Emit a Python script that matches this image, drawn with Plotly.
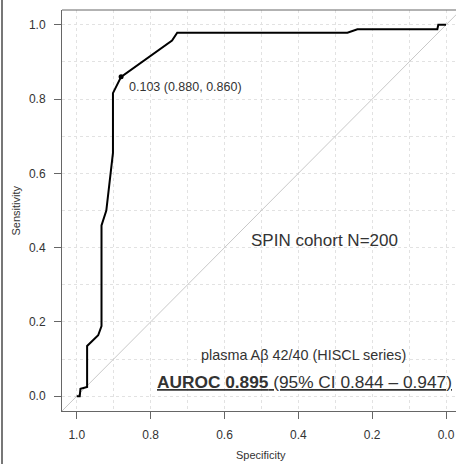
import plotly.graph_objects as go

# ROC curve (specificity, sensitivity)
specificity = [1.000, 0.992, 0.990, 0.972, 0.972, 0.942, 0.933, 0.933, 0.920,
               0.902, 0.902, 0.880, 0.742, 0.728, 0.267, 0.240, 0.0235, 0.021,
               0.003, 0.000]
sensitivity = [0.000, 0.000, 0.020, 0.025, 0.135, 0.164, 0.189, 0.460, 0.500,
               0.655, 0.816, 0.860, 0.958, 0.979, 0.979, 0.988, 0.988, 1.000,
               1.000, 1.000]

best_threshold = 0.103
best_spec = 0.880
best_sens = 0.860

chance_x = [1.04, -0.04]
chance_y = [-0.04, 1.04]

tick_vals = [0.0, 0.2, 0.4, 0.6, 0.8, 1.0]

cohort_label = "SPIN cohort N=200"
marker_label = "plasma Aβ 42/40 (HISCL series)"
auroc_label = "<b><u>AUROC 0.895</u></b><u> (95% CI 0.844 – 0.947)</u>"

TEXT = "#333333"
AXIS = "#666666"
GRID = "#e2e2e2"
FONT = "Liberation Sans, Arial, sans-serif"

fig = go.Figure()

# chance diagonal
fig.add_trace(go.Scatter(x=chance_x, y=chance_y, mode="lines",
                         line=dict(color="#c8c8c8", width=1),
                         hoverinfo="skip", showlegend=False))

# ROC curve
fig.add_trace(go.Scatter(x=specificity, y=sensitivity, mode="lines",
                         line=dict(color="black", width=2),
                         showlegend=False))

# best threshold point
fig.add_trace(go.Scatter(x=[best_spec], y=[best_sens], mode="markers",
                         marker=dict(color="black", size=5),
                         showlegend=False))

fig.add_annotation(x=0.865, y=0.833, xref="x", yref="y", showarrow=False,
                   xanchor="left", yanchor="middle",
                   text=f"{best_threshold:.3f} ({best_spec:.3f}, {best_sens:.3f})",
                   font=dict(size=12.5, color=TEXT, family=FONT))
fig.add_annotation(x=0.328, y=0.419, showarrow=False, text=cohort_label,
                   font=dict(size=17, color=TEXT, family=FONT))
fig.add_annotation(x=0.386, y=0.11, showarrow=False, text=marker_label,
                   font=dict(size=14.4, color=TEXT, family=FONT))
fig.add_annotation(x=0.382, y=0.0385, showarrow=False, text=auroc_label,
                   font=dict(size=17.3, color=TEXT, family=FONT))

# axis titles
fig.add_annotation(x=0.5, xref="x", y=0, yref="paper", yanchor="middle",
                   yshift=-44, showarrow=False, text="Specificity",
                   font=dict(size=11, color=TEXT, family=FONT))
fig.add_annotation(x=0, xref="paper", y=0.5, yref="paper", xanchor="center",
                   xshift=-47, textangle=-90, showarrow=False, text="Sensitivity",
                   font=dict(size=11, color=TEXT, family=FONT))

# top border of the plot box (right side is cut off in the original)
fig.add_shape(type="line", xref="paper", yref="paper", x0=0, x1=1, y0=1, y1=1,
              line=dict(color=AXIS, width=1))
# frame line on the far left of the image
fig.add_shape(type="line", xref="paper", yref="paper", x0=-60 / 394, x1=-60 / 394,
              y0=-1, y1=2, line=dict(color="#777777", width=2))

fig.update_xaxes(range=[1.04, -0.027], tickvals=tick_vals, tickformat=".1f",
                 ticks="outside", ticklen=7, tickcolor=AXIS,
                 showline=True, linecolor=AXIS, linewidth=1, zeroline=False,
                 ticklabelstandoff=6,
                 tickfont=dict(size=12, color=TEXT, family=FONT),
                 showgrid=True, gridcolor=GRID, griddash="dot",
                 minor=dict(dtick=0.1, tick0=0, ticks="", showgrid=True,
                            gridcolor=GRID, griddash="dot"))
fig.update_yaxes(range=[-0.04, 1.04], tickvals=tick_vals, tickformat=".1f",
                 ticks="outside", ticklen=7, tickcolor=AXIS,
                 showline=True, linecolor=AXIS, linewidth=1, zeroline=False,
                 ticklabelstandoff=6,
                 tickfont=dict(size=12, color=TEXT, family=FONT),
                 showgrid=True, gridcolor=GRID, griddash="dot",
                 minor=dict(dtick=0.1, tick0=0, ticks="", showgrid=True,
                            gridcolor=GRID, griddash="dot"))

fig.update_layout(width=456, height=464,
                  margin=dict(l=62, r=0, t=10, b=53),
                  plot_bgcolor="white", paper_bgcolor="white",
                  font=dict(family=FONT, color=TEXT))

# the page's default body margin would shift everything by 8px
fig.write_html("out.html", config={"staticPlot": True},
               post_script="document.body.style.margin = '0';")
